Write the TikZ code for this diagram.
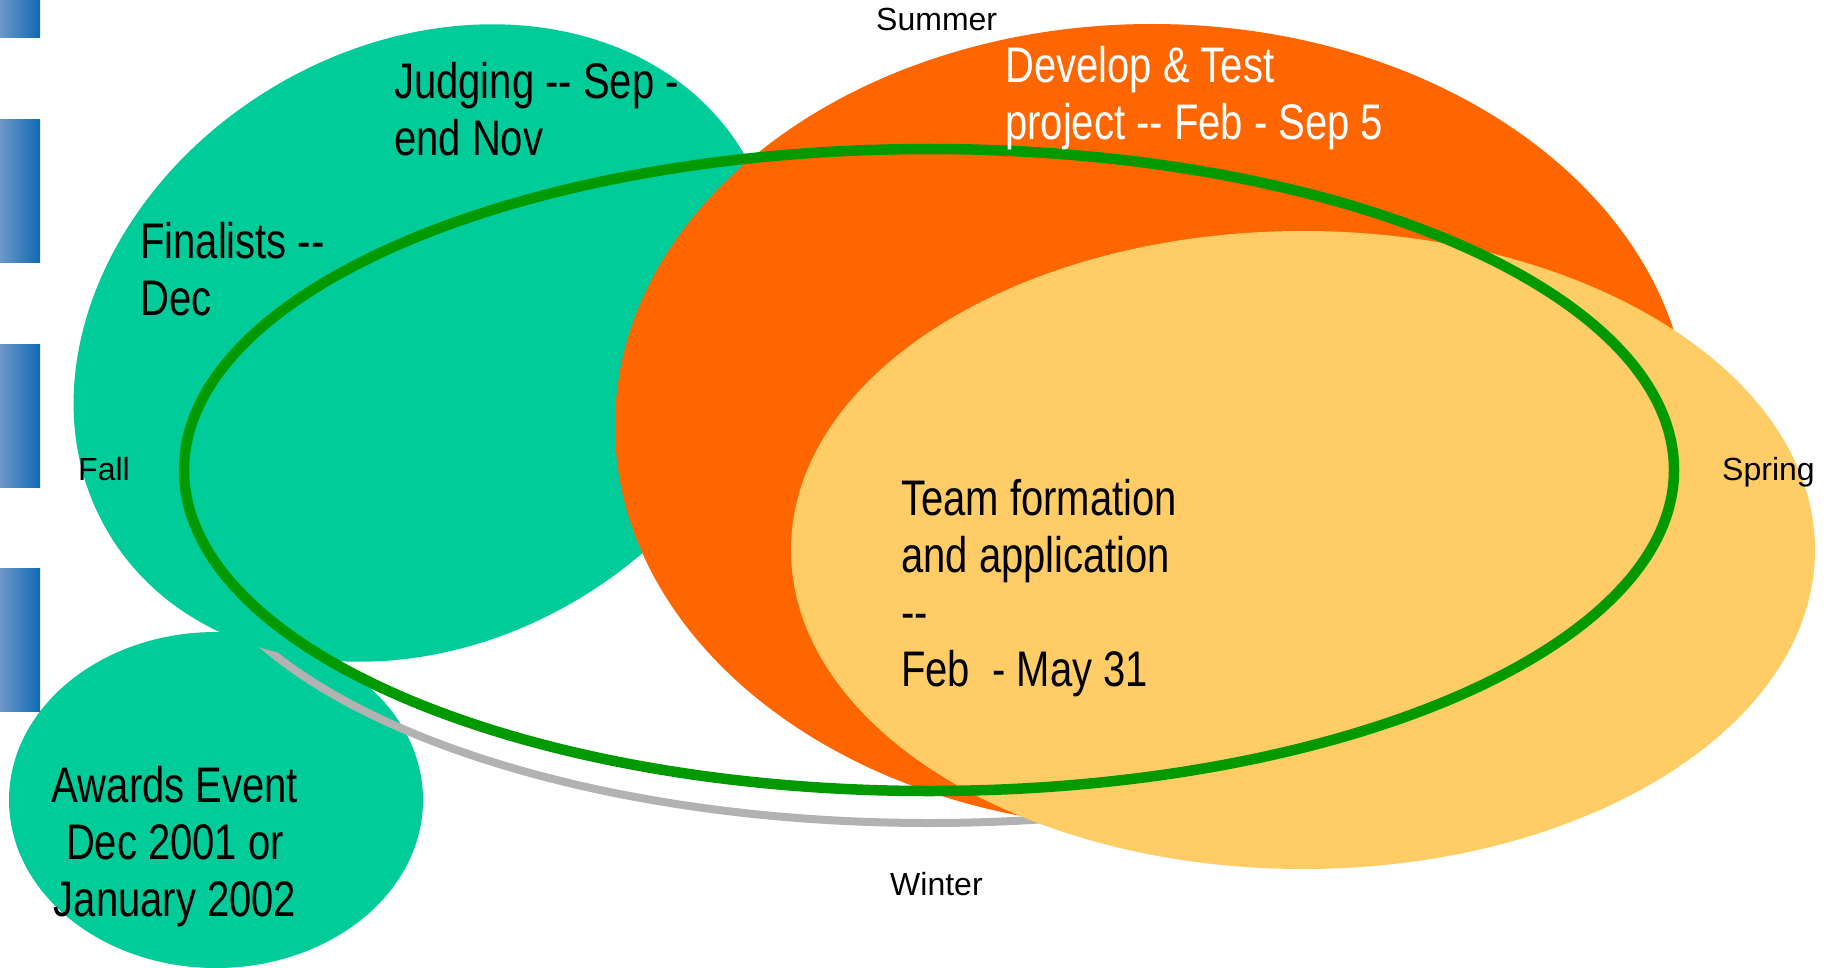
\documentclass[tikz,border=0pt]{standalone}
\usepackage{fontspec}
\setmainfont{Liberation Sans}
\newfontfamily\narrowfont{Liberation Sans}[FakeStretch=0.8]
\usetikzlibrary{positioning}
\definecolor{tealfill}{HTML}{00CC99}
\definecolor{orangefill}{HTML}{FF6600}
\definecolor{sandfill}{HTML}{FFCC66}
\definecolor{ringgreen}{HTML}{009900}
\definecolor{shadowgray}{HTML}{B2B2B2}
\definecolor{barblue}{HTML}{0F69B4}
\definecolor{barlight}{HTML}{6E97C9}

\begin{document}
\begin{tikzpicture}[x=1pt, y=-1pt,
            season/.style = {font=\fontsize{32}{38}\selectfont, inner sep=0pt, anchor=base west},
            phase/.style = {font=\narrowfont\fontsize{50}{57}\selectfont, inner sep=0pt, align=left, anchor=base west},
            sidebar/.style = {left color=barlight, right color=barblue}]
            \useasboundingbox (0,0) rectangle (1828,968);
            % bars on the left edge
            \shade[sidebar] (0,0) rectangle (40,38);
            \shade[sidebar] (0,120) rectangle (40,263);
            \shade[sidebar] (0,344) rectangle (40,487);
            \shade[sidebar] (0,568) rectangle (40,711);
            % the phases
            \fill[tealfill] (216,800) ellipse [x radius=207, y radius=168];
            \draw[shadowgray, line width=8] (929,501) ellipse [x radius=745, y radius=322];
            \fill[tealfill, shift={(426,343)}, rotate=31] (0,0) ellipse [x radius=370, y radius=298];
            \fill[orangefill] (1152,426) ellipse [x radius=537, y radius=402];
            \fill[sandfill] (1303,550) ellipse [x radius=512, y radius=319];
            \draw[ringgreen, line width=10.5] (929,470) ellipse [x radius=745, y radius=321];
            % texts (placed at the baseline of the last line)
            \node (judge) [phase] at (394,156) {Judging -- Sep -\\end Nov};
            \node (develop) [phase, text=white] at (1005,140) {Develop \& Test\\project -- Feb - Sep 5};
            \node (final) [phase] at (140,316) {Finalists --\\Dec};
            \node (team) [phase] at (901,686) {Team formation\\and application\\--\\Feb\ \ - May 31};
            \node (award) [phase, align=center, anchor=base] at (175,916) {Awards Event\\Dec 2001 or\\January 2002};
            \node (summer) [season] at (876,31) {Summer};
            \node (fall) [season] at (78,480) {Fall};
            \node (spring) [season] at (1722,480) {Spring};
            \node (winter) [season] at (890,895) {Winter};
\end{tikzpicture}
\end{document}
